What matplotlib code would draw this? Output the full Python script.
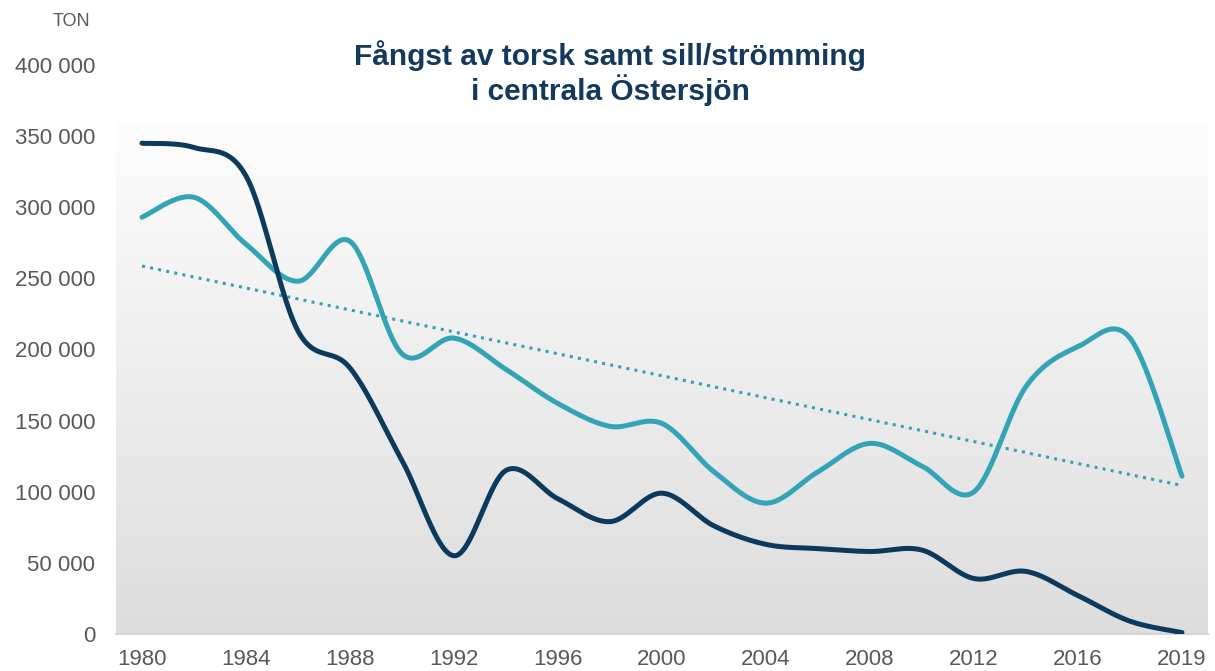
import numpy as np
import matplotlib
matplotlib.use("Agg")
import matplotlib.pyplot as plt
from matplotlib.colors import LinearSegmentedColormap

# ---- data ----
positions = list(range(0, 41, 2))           # category positions (1980 ... 2019)
torsk = [345000, 342000, 322000, 213000, 187000, 122000, 55000, 115000, 95000, 79000,
         99000, 76000, 63000, 60000, 58000, 59000, 39000, 44000, 27000, 9000, 1000]
sill = [293000, 307000, 274000, 248000, 276000, 197000, 208000, 186000, 162000, 146000,
        148000, 114000, 92000, 114000, 134000, 118000, 100000, 174000, 202000, 208000, 111000]
tick_pos = [0, 4, 8, 12, 16, 20, 24, 28, 32, 36, 40]
tick_labels = ["1980", "1984", "1988", "1992", "1996", "2000", "2004", "2008", "2012", "2016", "2019"]
y_ticks = [0, 50000, 100000, 150000, 200000, 250000, 300000, 350000, 400000]

NAVY = "#0c3a5c"
TEAL = "#33a3b6"
TITLE = "#14395c"
GREY = "#595959"

plt.rcParams['font.family'] = ['Liberation Sans', 'DejaVu Sans']


def smooth(xs, ys, n=40):
    """Excel-like smoothed line (Catmull-Rom Bezier, tension 1/6)."""
    xs = np.asarray(xs, float)
    ys = np.asarray(ys, float)
    P = np.column_stack([xs, ys])
    out = []
    m = len(P)
    for i in range(m - 1):
        p0 = P[i - 1] if i > 0 else P[i]
        p1 = P[i]
        p2 = P[i + 1]
        p3 = P[i + 2] if i + 2 < m else P[i + 1]
        c1 = p1 + (p2 - p0) / 6.0
        c2 = p2 - (p3 - p1) / 6.0
        t = np.linspace(0, 1, n, endpoint=(i == m - 2))[:, None]
        seg = ((1 - t) ** 3) * p1 + 3 * ((1 - t) ** 2) * t * c1 + 3 * (1 - t) * t ** 2 * c2 + t ** 3 * p2
        out.append(seg)
    out = np.vstack(out)
    return out[:, 0], out[:, 1]


fig = plt.figure(figsize=(12.15, 6.71), dpi=100)
ax = fig.add_axes([116 / 1215, 1 - 634 / 671, (1208 - 116) / 1215, (634 - 65) / 671])
ax.set_xlim(-1, 41)
ax.set_ylim(0, 400000)

# gradient background of the plot area
cmap = LinearSegmentedColormap.from_list("bg", ["#dddddd", "#fdfdfd"])
grad = np.linspace(0, 1, 256)[:, None]
ax.imshow(grad, extent=[-1, 41, 0, 358000], origin="lower", aspect="auto",
          cmap=cmap, zorder=0, interpolation="bicubic")
ax.set_facecolor("white")

# trendline for sill/strömming
coef = np.polyfit(positions, sill, 1)
tx = np.array([positions[0], positions[-1]])
ax.plot(tx, np.polyval(coef, tx), color=TEAL, lw=2.2, linestyle=(0, (1, 1.7)),
        dash_capstyle="butt", zorder=2)

sx, sy = smooth(positions, sill)
ax.plot(sx, sy, color=TEAL, lw=3.6, solid_capstyle="round", zorder=3)
cx, cy = smooth(positions, torsk)
ax.plot(cx, cy, color=NAVY, lw=3.6, solid_capstyle="round", zorder=4)

for s in ["top", "right", "left"]:
    ax.spines[s].set_visible(False)
ax.spines["bottom"].set_color("#d4d4d4")
ax.spines["bottom"].set_linewidth(1.5)

ax.set_xticks(tick_pos)
ax.set_xticklabels(tick_labels)
ax.set_yticks(y_ticks)
ax.set_yticklabels([f"{v:,}".replace(",", " ") for v in y_ticks])
ax.tick_params(axis="both", length=0, labelsize=16, labelcolor=GREY)
ax.tick_params(axis="y", pad=15)
ax.tick_params(axis="x", pad=11)

fig.text(610 / 1215, 1 - 73 / 671, "Fångst av torsk samt sill/strömming\ni centrala Östersjön",
         ha="center", va="center", fontsize=21.5, fontweight="bold", color=TITLE,
         linespacing=1.15)
fig.text(71 / 1215, 1 - 21.5 / 671, "TON", ha="center", va="center", fontsize=13, color=GREY)

fig.savefig("out.png", dpi=100, facecolor="white")
